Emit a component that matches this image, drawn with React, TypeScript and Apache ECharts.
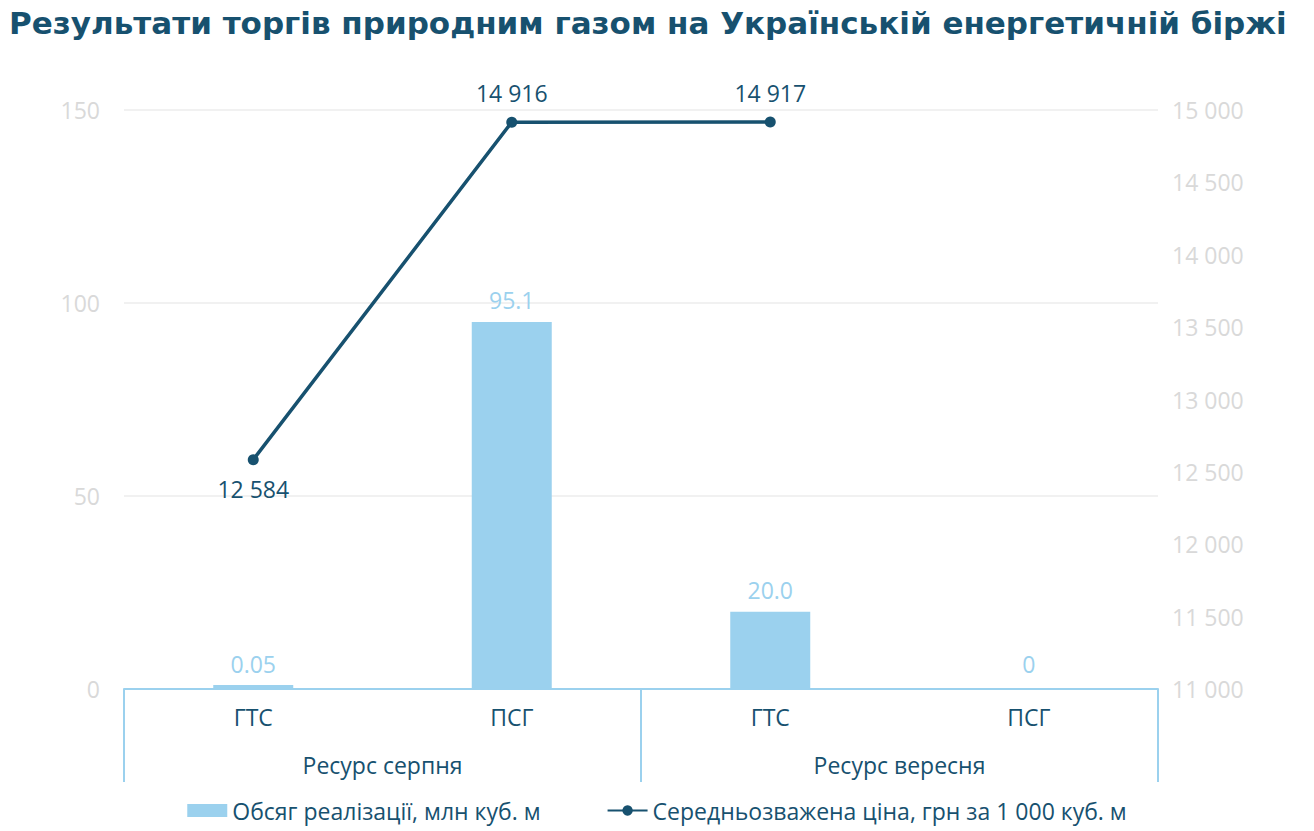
import { useEffect, useRef } from 'react';
import * as echarts from 'echarts';

const categories = ['ГТС', 'ПСГ', 'ГТС', 'ПСГ'];
const groups = ['Ресурс серпня', 'Ресурс вересня'];
const volume = [0.05, 95.1, 20.0, 0];
const volumeLabels = ['0.05', '95.1', '20.0', '0'];
const price: (number | null)[] = [12584, 14916, 14917, null];
const pricePositions = ['bottom', 'top', 'top', 'top'];

const TEAL = '#17516f';
const LIGHT = '#9bd1ee';
const FONT = '"Open Sans", Lato, sans-serif';

const fmt = (v: number) => String(v).replace(/\B(?=(\d{3})+(?!\d))/g, ' ');

export default function App() {
  const chartRef = useRef<HTMLDivElement | null>(null);

  useEffect(() => {
    const element = chartRef.current;
    if (!element) return;
    const chart = echarts.init(element, undefined, { renderer: 'svg' });

    chart.setOption({
      animation: false,
      textStyle: { fontFamily: FONT },
      title: {
        text: 'Результати торгів природним газом на Українській енергетичній біржі',
        left: 4,
        top: 2,
        textStyle: { color: TEAL, fontSize: 31, fontWeight: 'bold', fontFamily: '"DejaVu Sans", sans-serif' },
      },
      grid: { left: 124, right: 156, top: 110, bottom: 142 },
      legend: {
        bottom: 4,
        left: 'center',
        itemGap: 66,
        itemWidth: 40,
        itemHeight: 13,
        textStyle: { color: TEAL, fontSize: 23, fontFamily: FONT },
        data: [
          { name: 'Обсяг реалізації, млн куб. м', icon: 'rect' },
          { name: 'Середньозважена ціна, грн за 1 000 куб. м' },
        ],
      },
      xAxis: [
        {
          type: 'category',
          data: categories,
          axisLine: { lineStyle: { color: LIGHT, width: 2 } },
          axisTick: { show: false },
          axisLabel: { color: TEAL, fontSize: 23, margin: 16 },
        },
        {
          type: 'category',
          data: groups,
          position: 'bottom',
          axisLine: { show: false },
          axisTick: { show: true, length: 93, lineStyle: { color: LIGHT, width: 2 } },
          axisLabel: { color: TEAL, fontSize: 23, margin: 64 },
        },
      ],
      yAxis: [
        {
          type: 'value',
          min: 0,
          max: 150,
          interval: 50,
          axisLine: { show: false },
          axisTick: { show: false },
          axisLabel: { color: '#d9d9d9', fontSize: 23, margin: 24 },
          splitLine: { lineStyle: { color: '#ececec', width: 1.5 } },
        },
        {
          type: 'value',
          min: 11000,
          max: 15000,
          interval: 500,
          axisLine: { show: false },
          axisTick: { show: false },
          axisLabel: { color: '#d9d9d9', fontSize: 23, margin: 14, formatter: (v: number) => fmt(v) },
          splitLine: { show: false },
        },
      ],
      series: [
        {
          name: 'Обсяг реалізації, млн куб. м',
          type: 'bar',
          xAxisIndex: 0,
          yAxisIndex: 0,
          barWidth: 80,
          barMinHeight: 4,
          itemStyle: { color: LIGHT },
          data: volume.map((v) => ({
            value: v,
            itemStyle: v === 0 ? { color: 'rgba(0,0,0,0)' } : undefined,
          })),
          label: {
            show: true,
            position: 'top',
            distance: 10,
            color: LIGHT,
            fontSize: 23,
            formatter: (p: any) => volumeLabels[p.dataIndex],
          },
        },
        {
          name: 'Середньозважена ціна, грн за 1 000 куб. м',
          type: 'line',
          xAxisIndex: 0,
          yAxisIndex: 1,
          symbol: 'circle',
          symbolSize: 11,
          lineStyle: { color: TEAL, width: 3.5 },
          itemStyle: { color: TEAL },
          data: price.map((v, i) => ({
            value: v,
            label: { position: pricePositions[i] },
          })),
          label: {
            show: true,
            color: TEAL,
            fontSize: 23,
            distance: 12,
            formatter: (p: any) => fmt(p.value),
          },
        },
      ],
    });

    return () => chart.dispose();
  }, []);

  return (
    <div
      ref={chartRef}
      style={{ position: 'absolute', left: 0, top: 0, width: 1314, height: 831 }}
    />
  );
}
